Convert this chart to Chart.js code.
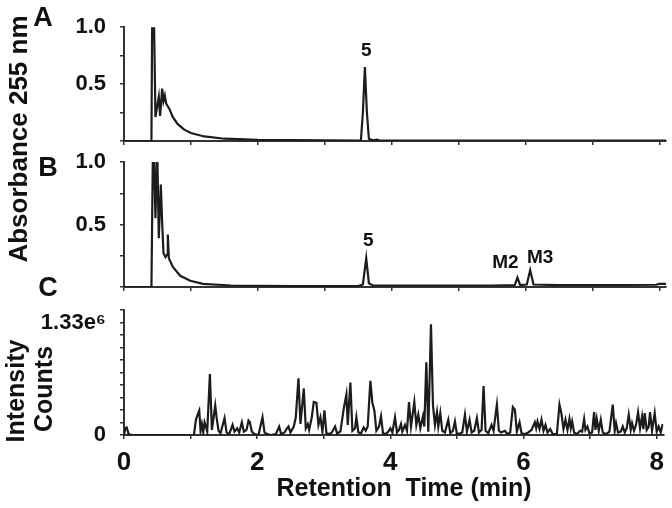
<!DOCTYPE html>
<html>
<head>
<meta charset="utf-8">
<script src="https://cdn.jsdelivr.net/npm/chart.js@4/dist/chart.umd.min.js"></script>
<style>
  body { margin: 0; background: #fff; }
  #lienzo { position: relative; width: 672px; height: 508px; font-family: "Liberation Sans", Arial, sans-serif; font-weight: bold; color: #111; }
  #lienzo canvas { position: absolute; left: 0; top: 0; }
  .texto { position: absolute; white-space: nowrap; line-height: 1; transform: translate(-50%, -50%); }
  .vertical { transform: translate(-50%, -50%) rotate(-90deg); }
</style>
</head>
<body>
<div id="lienzo">
  <canvas id="plotA" width="672" height="508"></canvas>
  <canvas id="plotB" width="672" height="508"></canvas>
  <canvas id="plotC" width="672" height="508"></canvas>
  <div class="texto" style="left:43px;top:17px;font-size:27px">A</div>
  <div class="texto" style="left:48px;top:167px;font-size:27px">B</div>
  <div class="texto" style="left:48px;top:287px;font-size:27px">C</div>
  <div class="texto vertical" style="left:18px;top:139px;font-size:26px">Absorbance 255 nm</div>
  <div class="texto vertical" style="left:15px;top:391px;font-size:25px">Intensity</div>
  <div class="texto vertical" style="left:43px;top:389px;font-size:25px">Counts</div>
  <div class="texto" style="left:404px;top:487px;font-size:25px">Retention&nbsp; Time (min)</div>
</div>
<script>
// Traza A: absorbancia 255 nm, pares [tiempo (min), absorbancia]
let trazaA = [
  [0, 0], [0.41, 0], [0.42, 1.0], [0.45, 1.0], [0.47, 0.21], [0.52, 0.39], [0.54, 0.22],
  [0.57, 0.46], [0.59, 0.35], [0.61, 0.40], [0.63, 0.33], [0.68, 0.28], [0.73, 0.21],
  [0.80, 0.15], [0.90, 0.10], [1.00, 0.07], [1.20, 0.04], [1.50, 0.02], [2.00, 0.01],
  [3.00, 0.005], [3.54, 0.004], [3.57, 0.25], [3.60, 0.65], [3.63, 0.25], [3.66, 0.02],
  [3.72, 0.006], [3.78, 0.012], [3.82, 0.004], [8.10, 0.003]
];

// Traza B: absorbancia 255 nm
let trazaB = [
  [0, 0], [0.41, 0], [0.43, 1.0], [0.45, 1.0], [0.47, 0.55], [0.49, 1.0], [0.50, 1.0],
  [0.52, 0.39], [0.55, 0.82], [0.57, 0.52], [0.59, 0.27], [0.62, 0.24], [0.645, 0.26],
  [0.655, 0.42], [0.67, 0.23], [0.73, 0.16], [0.84, 0.09], [0.99, 0.05], [1.18, 0.025],
  [1.60, 0.012], [2.50, 0.008], [3.50, 0.008], [3.57, 0.02], [3.62, 0.23], [3.66, 0.03],
  [3.72, 0.012], [4.50, 0.012], [5.50, 0.012], [5.84, 0.015], [5.88, 0.075], [5.92, 0.015],
  [6.02, 0.02], [6.07, 0.135], [6.12, 0.02], [6.50, 0.015], [7.50, 0.016], [7.95, 0.018],
  [8.00, 0.025], [8.10, 0.025]
];

// Traza C: intensidad (millones de cuentas)
let trazaC = [
  [0, 0], [0.02, 0.08], [0.04, 0.09], [0.07, 0.01], [0.12, 0], [1.05, 0],
  [1.08, 0.18], [1.11, 0.25], [1.13, 0.29], [1.15, 0.05], [1.17, 0.13], [1.19, 0.03], [1.21, 0.15],
  [1.23, 0.10], [1.25, 0.04], [1.29, 0.72], [1.32, 0.06], [1.37, 0.35], [1.39, 0.21], [1.42, 0.05],
  [1.45, 0.02], [1.51, 0.20], [1.54, 0.03], [1.58, 0.01], [1.63, 0.12], [1.66, 0.04], [1.70, 0.08],
  [1.73, 0.03], [1.77, 0.15], [1.80, 0.04], [1.84, 0.06], [1.87, 0.17], [1.89, 0.15], [1.92, 0.04],
  [1.96, 0.01], [2.02, 0.0], [2.08, 0.21], [2.11, 0.03], [2.15, 0.01], [2.20, 0.0], [2.28, 0.01],
  [2.33, 0.10], [2.36, 0.01], [2.41, 0.03], [2.45, 0.08], [2.47, 0.10], [2.50, 0.03], [2.55, 0.10],
  [2.58, 0.21], [2.62, 0.67], [2.65, 0.13], [2.70, 0.55], [2.73, 0.08], [2.76, 0.13], [2.78, 0.06],
  [2.82, 0.21], [2.85, 0.39], [2.89, 0.38], [2.92, 0.12], [2.95, 0.21], [2.98, 0.04], [3.01, 0.29],
  [3.04, 0.02], [3.08, 0.01], [3.12, 0.03], [3.17, 0.10], [3.20, 0.02], [3.25, 0.04], [3.30, 0.31],
  [3.34, 0.48], [3.36, 0.12], [3.40, 0.62], [3.43, 0.05], [3.47, 0.08], [3.49, 0.21], [3.52, 0.03],
  [3.56, 0.02], [3.60, 0.09], [3.63, 0.05], [3.66, 0.10], [3.70, 0.64], [3.73, 0.38], [3.76, 0.29],
  [3.79, 0.05], [3.83, 0.10], [3.86, 0.22], [3.89, 0.02], [3.93, 0.01], [3.97, 0.04], [4.00, 0.08],
  [4.03, 0.03], [4.07, 0.21], [4.10, 0.03], [4.13, 0.06], [4.16, 0.13], [4.18, 0.04], [4.22, 0.12],
  [4.25, 0.05], [4.28, 0.39], [4.31, 0.10], [4.36, 0.39], [4.39, 0.12], [4.42, 0.24], [4.45, 0.08],
  [4.49, 0.22], [4.51, 0.10], [4.54, 0.86], [4.57, 0.04], [4.61, 1.31], [4.64, 0.35], [4.67, 0.12],
  [4.70, 0.27], [4.72, 0.10], [4.75, 0.26], [4.78, 0.05], [4.82, 0.03], [4.87, 0.18], [4.90, 0.02],
  [4.94, 0.05], [4.97, 0.16], [5.00, 0.01], [5.05, 0.02], [5.08, 0.03], [5.12, 0.24], [5.15, 0.04],
  [5.19, 0.18], [5.22, 0.03], [5.26, 0.05], [5.30, 0.20], [5.33, 0.03], [5.37, 0.06], [5.40, 0.58],
  [5.43, 0.05], [5.47, 0.02], [5.52, 0.12], [5.55, 0.05], [5.57, 0.18], [5.60, 0.36], [5.63, 0.05],
  [5.66, 0.03], [5.72, 0.05], [5.76, 0.01], [5.80, 0.03], [5.84, 0.33], [5.87, 0.30], [5.90, 0.04],
  [5.94, 0.15], [5.97, 0.02], [6.02, 0.01], [6.07, 0.03], [6.12, 0.06], [6.17, 0.15], [6.19, 0.08],
  [6.21, 0.16], [6.24, 0.07], [6.27, 0.18], [6.30, 0.05], [6.33, 0.12], [6.36, 0.03], [6.40, 0.07],
  [6.44, 0.01], [6.50, 0.01], [6.54, 0.36], [6.57, 0.25], [6.60, 0.07], [6.63, 0.18], [6.66, 0.06],
  [6.69, 0.19], [6.71, 0.08], [6.73, 0.16], [6.76, 0.03], [6.80, 0.01], [6.85, 0.05], [6.88, 0.04],
  [6.91, 0.19], [6.93, 0.06], [6.96, 0.10], [6.99, 0.02], [7.03, 0.03], [7.06, 0.27], [7.08, 0.06],
  [7.10, 0.19], [7.13, 0.05], [7.16, 0.18], [7.19, 0.03], [7.24, 0.01], [7.29, 0.04], [7.34, 0.36],
  [7.37, 0.05], [7.39, 0.14], [7.42, 0.03], [7.46, 0.04], [7.49, 0.10], [7.52, 0.03], [7.55, 0.08],
  [7.58, 0.24], [7.61, 0.06], [7.63, 0.14], [7.66, 0.05], [7.69, 0.12], [7.72, 0.27], [7.75, 0.08],
  [7.78, 0.22], [7.80, 0.07], [7.82, 0.26], [7.85, 0.06], [7.88, 0.10], [7.90, 0.27], [7.93, 0.05],
  [7.97, 0.26], [8.00, 0.04], [8.03, 0.10], [8.06, 0.03], [8.09, 0.13]
];

// Etiquetas de los picos [tiempo, valor, texto]
let picosA = [[3.62, 0.79, '5']];
let picosB = [[3.65, 0.37, '5'], [5.70, 0.19, 'M2'], [6.22, 0.23, 'M3']];

// Marcas de los ejes
let xTicks = [0, 1, 2, 3, 4, 5, 6, 7, 8];
let xTickLabels = ['0', '', '2', '', '4', '', '6', '', '8'];
let absTicks = [0, 0.25, 0.5, 0.75, 1.0];
let absTickLabels = ['', '', '0.5', '', '1.0'];
let cTope = 1.33;
let cTicks = [0, 1, 2, 3, 4, 5, 6, 7, 8, 9, 10].map(k => k * cTope / 9);
let cTickLabels = ['0', '', '', '', '', '', '', '', '', '1.33e\u2076', ''];

let fuente = '"Liberation Sans", Arial, sans-serif';
let colorEje = '#333';
let colorTraza = '#1c1c1c';

// Dibuja los textos de los picos en coordenadas de datos
let etiquetasPlugin = {
  id: 'etiquetas',
  afterDatasetsDraw(chart, args, opts) {
    let ctx = chart.ctx;
    ctx.save();
    ctx.font = 'bold 19px ' + fuente;
    ctx.fillStyle = '#111';
    ctx.textAlign = 'center';
    ctx.textBaseline = 'middle';
    (opts.items || []).forEach(p => {
      ctx.fillText(p[2], chart.scales.x.getPixelForValue(p[0]), chart.scales.y.getPixelForValue(p[1]));
    });
    ctx.restore();
  }
};

let crearPanel = (id, traza, arriba, abajo, yMax, yTicks, yLabels, picos, conEtiquetasX) => {
  let plotRef = document.getElementById(id);
  let config = {
    type: 'line',
    data: {
      datasets: [{
        data: traza.map(p => ({ x: p[0], y: p[1] })),
        borderColor: colorTraza,
        borderWidth: 2.2,
        pointRadius: 0,
        tension: 0
      }]
    },
    options: {
      responsive: false,
      animation: false,
      events: [],
      layout: { padding: { left: 0, right: 6, top: arriba, bottom: 0 } },
      plugins: {
        legend: { display: false },
        tooltip: { enabled: false },
        etiquetas: { items: picos }
      },
      scales: {
        x: {
          type: 'linear',
          min: 0,
          max: 8.1,
          afterBuildTicks: s => { s.ticks = xTicks.map(v => ({ value: v })); },
          afterFit: s => { s.height = 508 - abajo; },
          border: { color: colorEje, width: 2 },
          grid: { drawOnChartArea: false, drawTicks: true, tickLength: 4, color: colorEje, lineWidth: 1.5 },
          ticks: {
            display: conEtiquetasX,
            autoSkip: false,
            maxRotation: 0,
            padding: 8,
            color: '#111',
            font: { family: fuente, size: 26, weight: 'bold' },
            callback: (v, i) => xTickLabels[i]
          }
        },
        y: {
          min: 0,
          max: yMax,
          afterBuildTicks: s => { s.ticks = yTicks.map(v => ({ value: v })); },
          afterFit: s => { s.width = 124; },
          border: { color: colorEje, width: 2 },
          grid: { drawOnChartArea: false, drawTicks: true, tickLength: 4, color: colorEje, lineWidth: 1.5 },
          ticks: {
            autoSkip: false,
            padding: 14,
            color: '#111',
            font: { family: fuente, size: 22, weight: 'bold' },
            callback: (v, i) => yLabels[i]
          }
        }
      }
    },
    plugins: [etiquetasPlugin]
  };
  return new Chart(plotRef, config);
};

crearPanel('plotA', trazaA, 15, 141, 1.0, absTicks, absTickLabels, picosA, false);
crearPanel('plotB', trazaB, 162, 287, 1.0, absTicks, absTickLabels, picosB, false);
crearPanel('plotC', trazaC, 310, 435, cTope * 10 / 9, cTicks, cTickLabels, [], true);
</script>
</body>
</html>
